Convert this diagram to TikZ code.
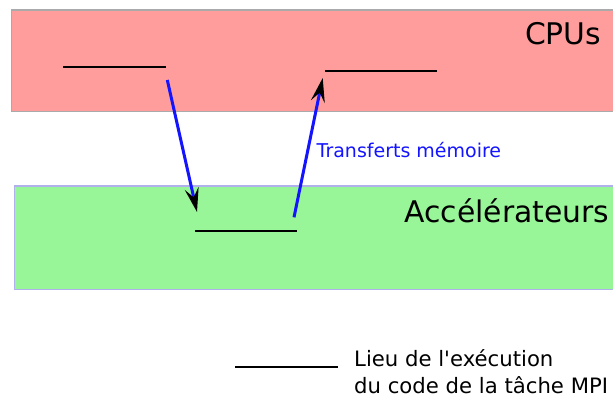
\documentclass[tikz,border=0pt]{standalone}
\usepackage{fontspec}
\setmainfont{DejaVu Sans}[Ligatures=TeXOff]
\usetikzlibrary{arrows.meta}
\definecolor{cpufill}{RGB}{255,157,157}
\definecolor{cpuline}{RGB}{170,170,170}
\definecolor{accfill}{RGB}{152,246,152}
\definecolor{accline}{RGB}{176,176,236}
\definecolor{xferblue}{RGB}{20,20,255}
\tikzset{
  zone/.style={line width=1.6pt},
  taskline/.style={draw=black,line width=2pt},
  xfer/.style={draw=xferblue,line width=3pt,-{Stealth[black,length=24pt,width=14pt,inset=9pt]}},
  bigtext/.style={font=\fontsize{29.8}{34}\selectfont,inner sep=0pt},
  xfertext/.style={font=\fontsize{19}{23}\selectfont,inner sep=0pt,text=xferblue},
  legtext/.style={font=\fontsize{21.2}{27.3}\selectfont,inner sep=0pt,align=left}
}
\begin{document}
\begin{tikzpicture}[x=1pt,y=-1pt]
\useasboundingbox (0,0) rectangle (613,399);
% zones
\fill[white] (0,0) rectangle (613,399);
\draw[zone,draw=cpuline,fill=cpufill] (640,10) -- (11.5,10) -- (11.5,111.5) -- (640,111.5);
\draw[zone,draw=accline,fill=accfill] (640,186) -- (14.5,186) -- (14.5,289.5) -- (640,289.5);
\node[bigtext,anchor=base east] (cpus) at (601.5,44.5) {CPUs};
\node[bigtext,anchor=base east] (acc) at (609.5,222.7) {Accélérateurs};
% task lines
\coordinate (t1a) at (63,67);
\coordinate (t1b) at (166,67);
\coordinate (t2a) at (325,70.5);
\coordinate (t2b) at (437,70.5);
\coordinate (t3a) at (195,230.5);
\coordinate (t3b) at (297,230.5);
\draw[taskline] (t1a) -- (t1b);
\draw[taskline] (t2a) -- (t2b);
\draw[taskline] (t3a) -- (t3b);
% transfers
\coordinate (d1s) at (167.3,80);
\coordinate (d1e) at (197,212);
\coordinate (u1s) at (294,217.3);
\coordinate (u1e) at (322.7,78);
\draw[xfer] (d1s) -- (d1e);
\draw[xfer] (u1s) -- (u1e);
\node[xfertext,anchor=base west] (xl) at (316.5,157.7) {Transferts mémoire};
% legend
\coordinate (la) at (235,366.5);
\coordinate (lb) at (338,366.5);
\draw[taskline] (la) -- (lb);
\node[legtext,anchor=base west] (leg1) at (354,366) {Lieu de l'exécution};
\node[legtext,anchor=base west] (leg2) at (354,393.3) {du code de la tâche MPI};
\end{tikzpicture}
\end{document}
